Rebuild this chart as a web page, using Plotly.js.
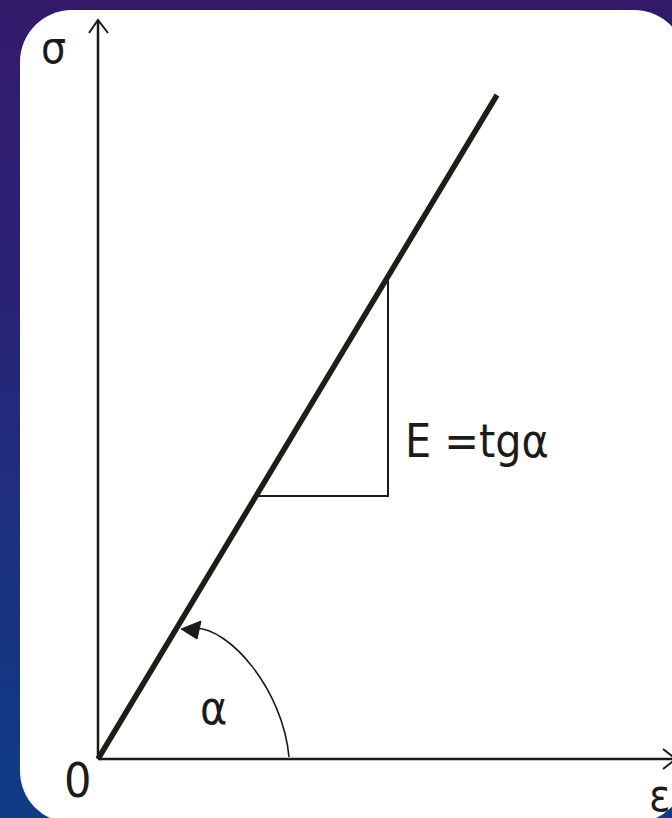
<!DOCTYPE html>
<html>
<head>
<meta charset="utf-8">
<script src="https://cdn.plot.ly/plotly-3.0.1.min.js"></script>
<style>
  html, body { margin: 0; padding: 0; width: 672px; height: 818px; overflow: hidden; }
  body { background: linear-gradient(180deg, #331a6b 0%, #2a2276 35%, #1a3380 70%, #0f3c86 100%); position: relative; }
  #card { position: absolute; left: 20px; top: 10px; width: 666px; height: 813px; background: #ffffff; border-radius: 52px; }
  #chart { position: absolute; left: 0; top: 0; width: 672px; height: 818px; }
</style>
</head>
<body>
<div id="card"></div>
<div id="chart"></div>
<script>
// Linear-elastic stress–strain diagram (Hooke's law): σ = E·ε, E = tg α
const strain = [0, 3.99];            // ε along the elastic line
const stress = [0, 6.64];            // σ along the elastic line

// slope triangle showing E = tg α
const triStrain = [1.58, 2.90, 2.90];
const triStress = [2.63, 2.63, 4.83];

// coordinate axes (ε to the right, σ upward)
const axisEps = [0, 5.78];
const axisSig = [0, 7.39];

const labels = {
  sigma: 'σ', eps: 'ε', origin: '0', alpha: 'α', modulus: 'E =tgα'
};

const ink = '#1b1b1b';
const font = '"Liberation Sans Narrow", "Arial Narrow", "DejaVu Sans Condensed", "Liberation Sans", sans-serif';

const traces = [
  // σ axis
  { x: [0, 0], y: axisSig, mode: 'lines', line: { color: ink, width: 2.5 }, hoverinfo: 'skip' },
  { x: [-0.09, 0, 0.10], y: [axisSig[1] - 0.13, axisSig[1], axisSig[1] - 0.13], mode: 'lines',
    line: { color: ink, width: 2 }, hoverinfo: 'skip' },
  // ε axis
  { x: axisEps, y: [0, 0], mode: 'lines', line: { color: ink, width: 2.5 }, hoverinfo: 'skip' },
  { x: [axisEps[1] - 0.13, axisEps[1], axisEps[1] - 0.13], y: [0.10, 0, -0.10], mode: 'lines',
    line: { color: ink, width: 2 }, hoverinfo: 'skip' },
  // slope triangle
  { x: triStrain, y: triStress, mode: 'lines', line: { color: ink, width: 2 }, hoverinfo: 'skip' },
  // elastic line
  { x: strain, y: stress, mode: 'lines', line: { color: '#211c18', width: 5.5 }, hoverinfo: 'skip' }
];

const shapes = [
  // angle arc from the ε axis to the elastic line
  { type: 'path', xref: 'x', yref: 'y',
    path: 'M 1.91 0.02 C 1.85 0.69, 1.32 1.31, 0.97 1.31',
    line: { color: ink, width: 1.6 } },
  // arrowhead at the end of the arc
  { type: 'path', xref: 'x', yref: 'y',
    path: 'M 0.83 1.30 L 1.03 1.38 L 0.99 1.20 Z',
    fillcolor: ink, line: { color: ink, width: 1 } }
];

const ann = (x, y, text, size, xanchor) => ({
  x, y, xref: 'x', yref: 'y', text, showarrow: false,
  xanchor: xanchor || 'center', yanchor: 'middle',
  font: { family: font, size, color: ink }
});

const annotations = [
  ann(-0.45, 7.12, labels.sigma, 44),
  ann(-0.21, -0.21, labels.origin, 48),
  ann(5.61, -0.36, labels.eps, 44),
  ann(1.15, 0.51, labels.alpha, 46),
  ann(3.05, 3.18, labels.modulus, 46, 'left')
];

const layout = {
  width: 672, height: 818,
  margin: { l: 0, r: 0, t: 0, b: 0 },
  paper_bgcolor: 'rgba(0,0,0,0)',
  plot_bgcolor: 'rgba(0,0,0,0)',
  showlegend: false,
  xaxis: { range: [-0.98, 5.74], visible: false, fixedrange: true },
  yaxis: { range: [-0.59, 7.59], visible: false, fixedrange: true },
  shapes, annotations
};

Plotly.newPlot('chart', traces, layout, { staticPlot: true, displayModeBar: false });
</script>
</body>
</html>
